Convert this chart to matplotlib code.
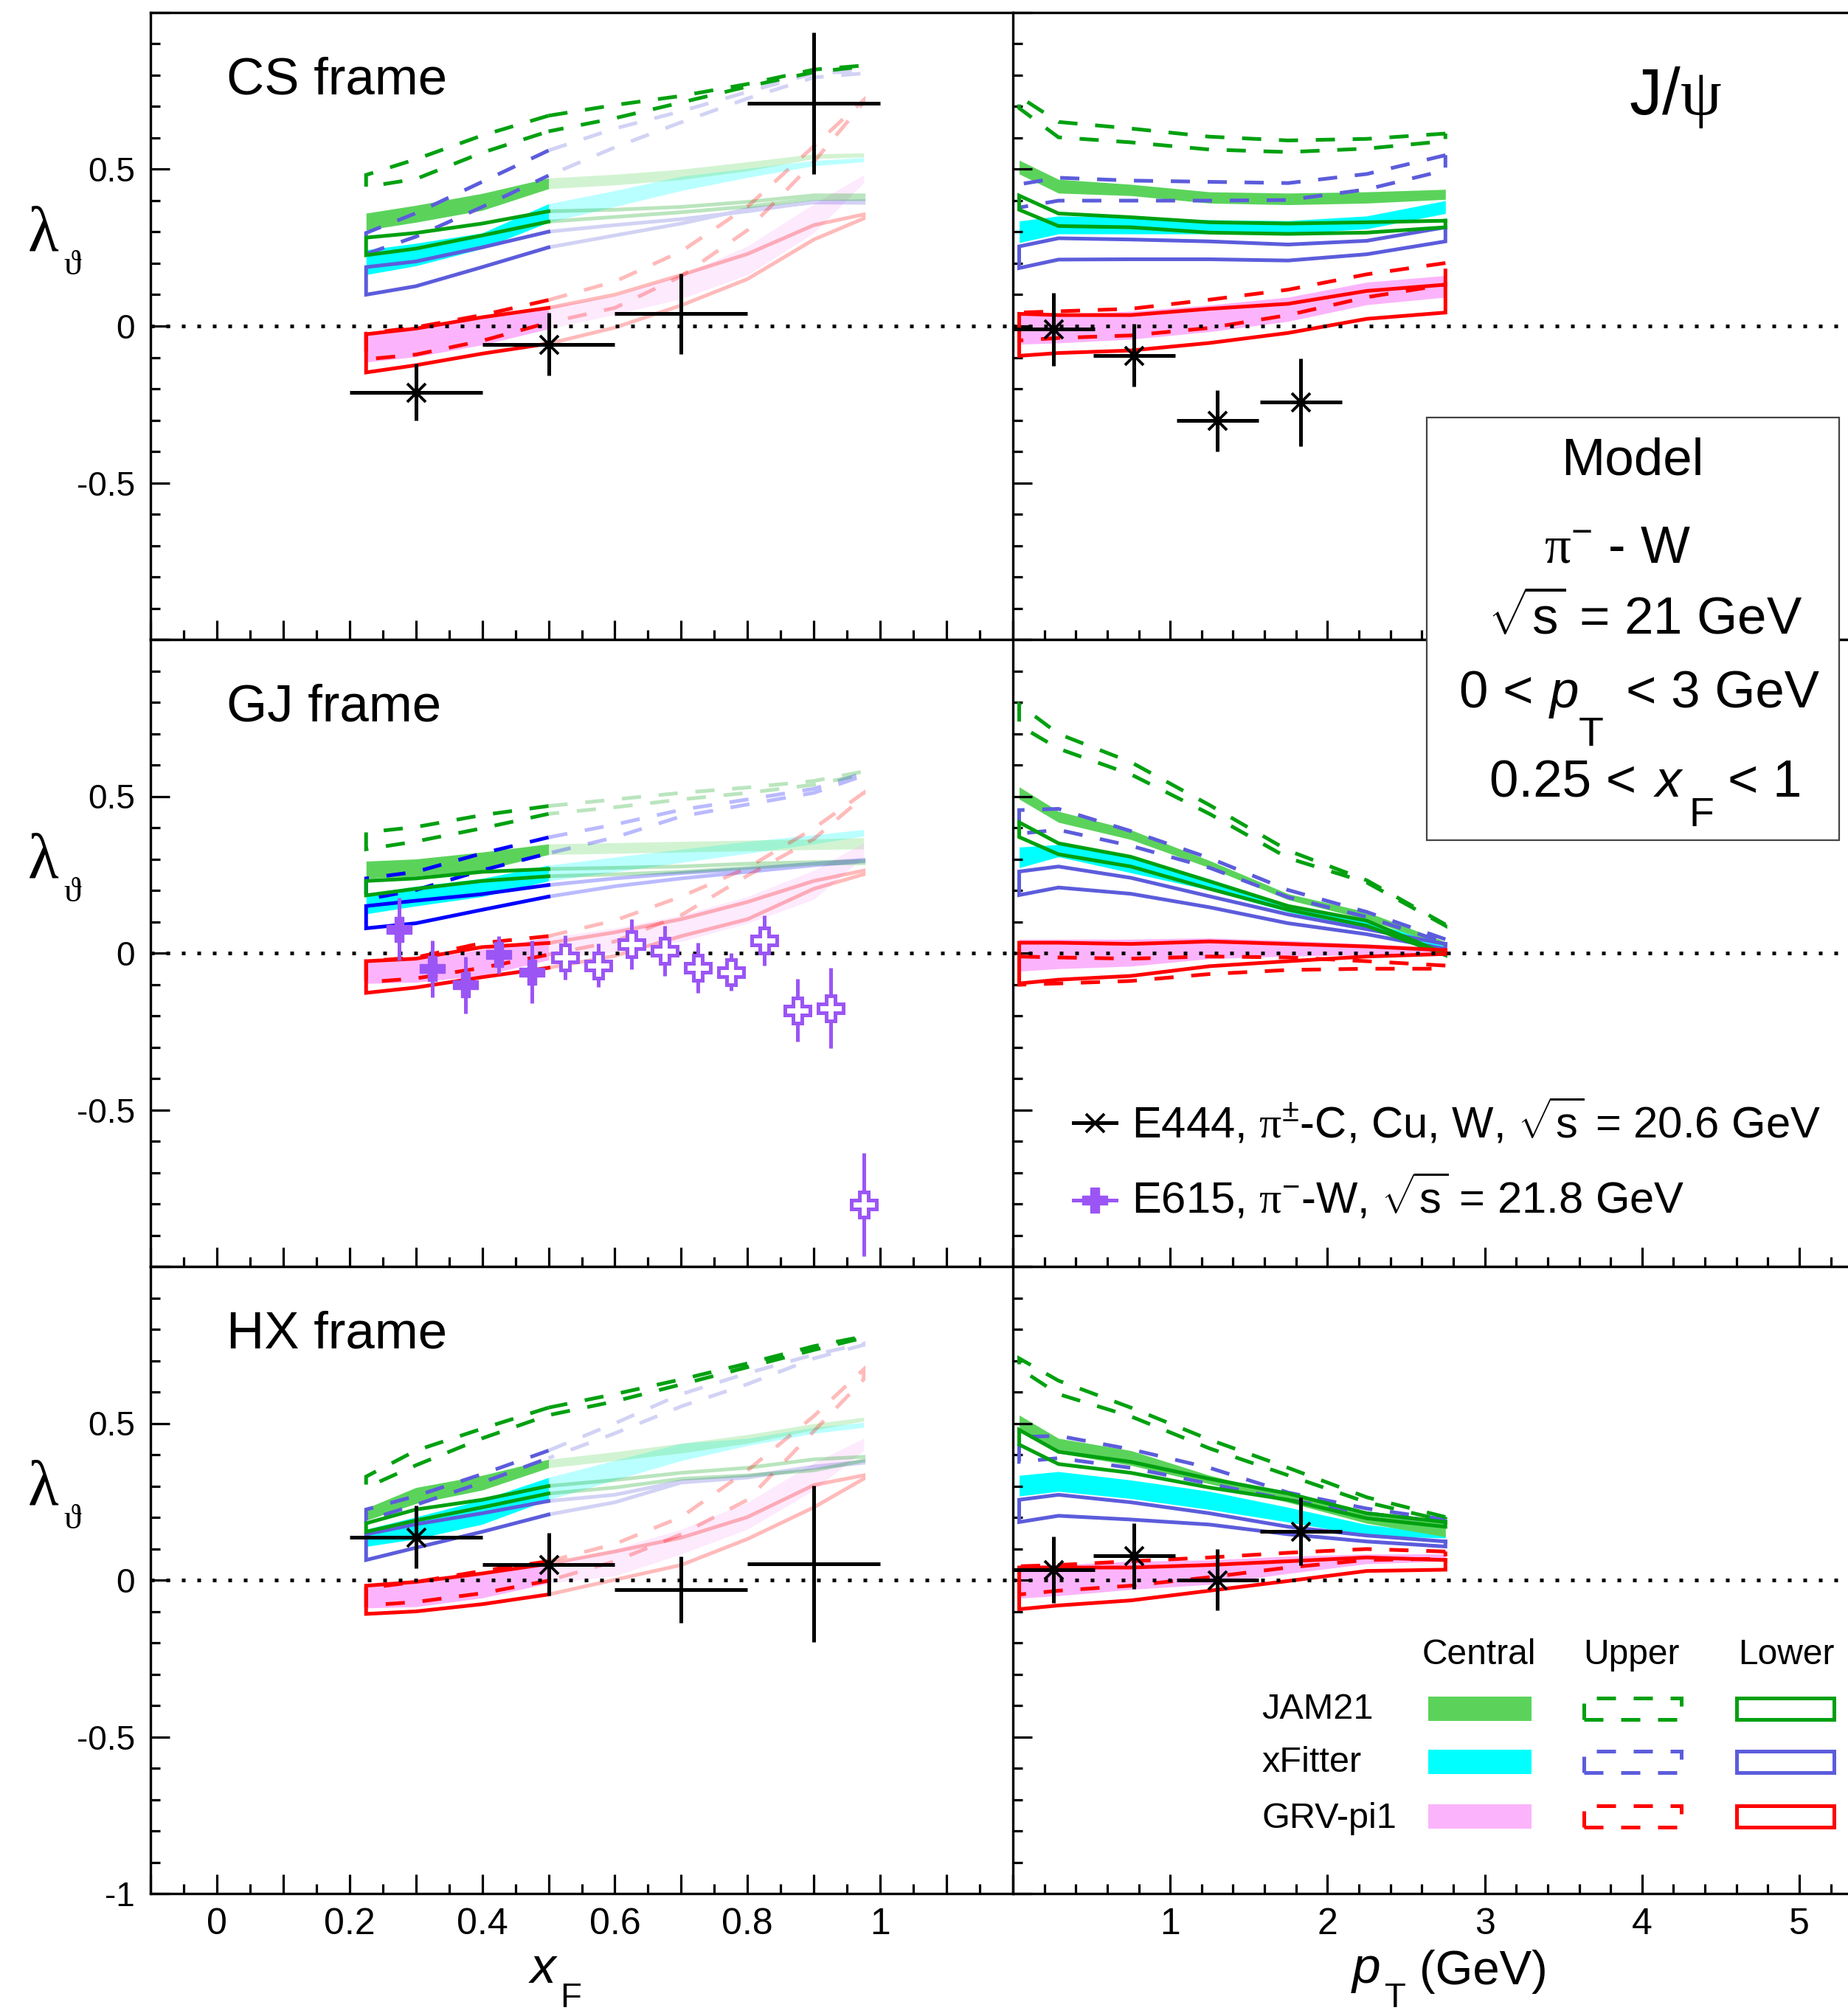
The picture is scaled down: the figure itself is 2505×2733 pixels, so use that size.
import matplotlib
matplotlib.use("Agg")
import matplotlib.pyplot as plt
from matplotlib.patches import Rectangle
from matplotlib.lines import Line2D
from matplotlib.ticker import FixedLocator, MultipleLocator, FuncFormatter

plt.rcParams["font.family"] = ["Liberation Sans", "DejaVu Sans"]
plt.rcParams["mathtext.fontset"] = "custom"
plt.rcParams["mathtext.rm"] = "Liberation Sans"
plt.rcParams["mathtext.it"] = "Liberation Sans:italic"
plt.rcParams["mathtext.sf"] = "Liberation Serif"
plt.rcParams["axes.unicode_minus"] = False

W, H, DPI = 2505, 2733, 100

# ---------------- data (top edge, bottom edge) ----------------
XF_NODES = [0.225, 0.3, 0.4, 0.5, 0.6, 0.7, 0.8, 0.9, 0.975]
PT_NODES = [0.04, 0.29, 0.75, 1.25, 1.75, 2.25, 2.75]

# CS frame vs xF
cs_xf_jam_central = ([0.360, 0.385, 0.423, 0.472, 0.484, 0.500, 0.524, 0.549, 0.552],
                     [0.306, 0.331, 0.369, 0.438, 0.450, 0.467, 0.495, 0.534, 0.539])
cs_xf_jam_upper = ([0.482, 0.532, 0.608, 0.671, 0.705, 0.734, 0.772, 0.818, 0.831],
                   [0.444, 0.469, 0.553, 0.621, 0.663, 0.713, 0.764, 0.810, 0.828])
cs_xf_jam_lower = ([0.282, 0.297, 0.327, 0.366, 0.371, 0.380, 0.396, 0.417, 0.417],
                   [0.226, 0.247, 0.289, 0.333, 0.348, 0.363, 0.381, 0.406, 0.405])
cs_xf_xfit_central = ([0.243, 0.264, 0.297, 0.390, 0.432, 0.478, 0.503, 0.528, 0.537],
                      [0.164, 0.192, 0.247, 0.331, 0.381, 0.432, 0.474, 0.511, 0.524])
cs_xf_xfit_upper = ([0.297, 0.360, 0.460, 0.560, 0.630, 0.685, 0.747, 0.806, 0.814],
                    [0.230, 0.285, 0.380, 0.480, 0.570, 0.650, 0.726, 0.793, 0.806])
cs_xf_xfit_lower = ([0.188, 0.206, 0.251, 0.301, 0.322, 0.341, 0.366, 0.396, 0.398],
                    [0.100, 0.127, 0.188, 0.251, 0.289, 0.327, 0.373, 0.394, 0.393])
cs_xf_grv_central = ([-0.026, -0.005, 0.028, 0.062, 0.096, 0.163, 0.255, 0.390, 0.482],
                     [-0.115, -0.098, -0.060, -0.009, 0.037, 0.087, 0.163, 0.297, 0.457])
cs_xf_grv_upper = ([-0.024, -0.004, 0.035, 0.083, 0.142, 0.238, 0.381, 0.574, 0.721],
                   [-0.106, -0.091, -0.047, 0.011, 0.058, 0.159, 0.306, 0.524, 0.713])
cs_xf_grv_lower = ([-0.026, -0.008, 0.028, 0.058, 0.100, 0.163, 0.230, 0.322, 0.356],
                   [-0.148, -0.125, -0.088, -0.056, -0.005, 0.066, 0.150, 0.276, 0.343])

# CS frame vs pT
cs_pt_jam_central = ([0.529, 0.468, 0.452, 0.428, 0.424, 0.428, 0.436],
                     [0.485, 0.424, 0.416, 0.392, 0.387, 0.392, 0.404])
cs_pt_jam_upper = ([0.732, 0.651, 0.630, 0.604, 0.592, 0.597, 0.614],
                   [0.695, 0.602, 0.586, 0.563, 0.555, 0.566, 0.590])
cs_pt_jam_lower = ([0.416, 0.359, 0.347, 0.331, 0.327, 0.331, 0.336],
                   [0.371, 0.319, 0.315, 0.298, 0.294, 0.298, 0.315])
cs_pt_xfit_central = ([0.335, 0.351, 0.347, 0.339, 0.336, 0.351, 0.400],
                      [0.266, 0.294, 0.294, 0.294, 0.294, 0.310, 0.359])
cs_pt_xfit_upper = ([0.452, 0.473, 0.464, 0.460, 0.456, 0.485, 0.545],
                    [0.378, 0.400, 0.400, 0.400, 0.402, 0.436, 0.497])
cs_pt_xfit_lower = ([0.254, 0.280, 0.276, 0.270, 0.260, 0.272, 0.315],
                    [0.185, 0.212, 0.213, 0.213, 0.209, 0.229, 0.270])
cs_pt_grv_central = ([0.043, 0.039, 0.047, 0.067, 0.092, 0.140, 0.161],
                     [-0.058, -0.054, -0.042, -0.018, 0.015, 0.068, 0.092])
cs_pt_grv_upper = ([0.043, 0.047, 0.055, 0.084, 0.116, 0.165, 0.201],
                   [-0.046, -0.038, -0.030, -0.006, 0.035, 0.092, 0.132])
cs_pt_grv_lower = ([0.039, 0.035, 0.035, 0.055, 0.071, 0.112, 0.132],
                   [-0.095, -0.086, -0.078, -0.054, -0.022, 0.023, 0.043])

# GJ frame vs xF
gj_xf_jam_central = ([0.293, 0.300, 0.322, 0.348, 0.352, 0.356, 0.360, 0.364, 0.368],
                     [0.238, 0.245, 0.264, 0.314, 0.318, 0.322, 0.326, 0.330, 0.332])
gj_xf_jam_upper = ([0.385, 0.402, 0.440, 0.469, 0.490, 0.511, 0.528, 0.549, 0.579],
                   [0.331, 0.356, 0.398, 0.444, 0.465, 0.490, 0.511, 0.537, 0.570])
gj_xf_jam_lower = ([0.230, 0.238, 0.259, 0.268, 0.272, 0.276, 0.285, 0.290, 0.293],
                   [0.184, 0.205, 0.230, 0.245, 0.251, 0.259, 0.272, 0.285, 0.287])
gj_xf_xfit_central = ([0.188, 0.213, 0.238, 0.280, 0.306, 0.331, 0.356, 0.377, 0.394],
                      [0.125, 0.150, 0.180, 0.230, 0.259, 0.289, 0.318, 0.348, 0.373])
gj_xf_xfit_upper = ([0.238, 0.259, 0.318, 0.369, 0.410, 0.457, 0.490, 0.524, 0.574],
                    [0.171, 0.201, 0.264, 0.318, 0.369, 0.436, 0.474, 0.511, 0.566])
gj_xf_xfit_lower = ([0.150, 0.167, 0.188, 0.217, 0.238, 0.255, 0.268, 0.285, 0.297],
                    [0.079, 0.095, 0.138, 0.180, 0.213, 0.238, 0.259, 0.280, 0.293])
gj_xf_grv_central = ([-0.030, -0.022, 0.012, 0.050, 0.079, 0.121, 0.180, 0.264, 0.352],
                     [-0.097, -0.093, -0.072, -0.022, 0.003, 0.037, 0.095, 0.171, 0.306])
gj_xf_grv_upper = ([-0.026, -0.014, 0.032, 0.054, 0.104, 0.180, 0.272, 0.398, 0.511],
                   [-0.093, -0.081, -0.047, -0.005, 0.037, 0.121, 0.247, 0.364, 0.499])
gj_xf_grv_lower = ([-0.026, -0.018, 0.019, 0.032, 0.066, 0.108, 0.163, 0.230, 0.263],
                   [-0.127, -0.110, -0.077, -0.047, -0.009, 0.054, 0.108, 0.205, 0.251])

# GJ frame vs pT
gj_pt_jam_central = ([0.530, 0.452, 0.393, 0.295, 0.189, 0.131, 0.036],
                     [0.491, 0.417, 0.362, 0.272, 0.170, 0.107, 0.021])
gj_pt_jam_upper = ([0.793, 0.699, 0.609, 0.472, 0.327, 0.232, 0.091],
                   [0.726, 0.652, 0.570, 0.444, 0.303, 0.225, 0.087])
gj_pt_jam_lower = ([0.417, 0.350, 0.307, 0.229, 0.150, 0.103, -0.003],
                   [0.370, 0.315, 0.276, 0.205, 0.138, 0.087, -0.007])
gj_pt_xfit_central = ([0.338, 0.346, 0.311, 0.236, 0.154, 0.099, 0.033],
                      [0.272, 0.307, 0.256, 0.201, 0.131, 0.075, 0.013])
gj_pt_xfit_upper = ([0.456, 0.460, 0.389, 0.303, 0.201, 0.131, 0.044],
                    [0.381, 0.393, 0.342, 0.272, 0.178, 0.115, 0.033])
gj_pt_xfit_lower = ([0.260, 0.276, 0.240, 0.181, 0.123, 0.076, 0.029],
                    [0.185, 0.209, 0.189, 0.146, 0.095, 0.060, 0.013])
gj_pt_grv_central = ([0.044, 0.044, 0.044, 0.048, 0.040, 0.029, 0.017],
                     [-0.058, -0.050, -0.042, -0.018, -0.010, -0.006, -0.003])
gj_pt_grv_upper = ([-0.011, -0.014, -0.018, -0.011, -0.014, -0.026, -0.040],
                   [-0.101, -0.097, -0.089, -0.067, -0.054, -0.050, -0.050])
gj_pt_grv_lower = ([0.033, 0.033, 0.029, 0.037, 0.029, 0.021, 0.009],
                   [-0.097, -0.085, -0.073, -0.042, -0.026, -0.011, -0.003])

# HX frame vs xF
hx_xf_jam_central = ([0.229, 0.295, 0.334, 0.385, 0.409, 0.436, 0.464, 0.499, 0.519],
                     [0.190, 0.244, 0.287, 0.358, 0.381, 0.405, 0.436, 0.479, 0.507])
hx_xf_jam_upper = ([0.330, 0.413, 0.483, 0.550, 0.593, 0.640, 0.691, 0.746, 0.777],
                   [0.295, 0.366, 0.452, 0.526, 0.570, 0.624, 0.679, 0.734, 0.773])
hx_xf_jam_lower = ([0.181, 0.225, 0.256, 0.300, 0.319, 0.342, 0.358, 0.385, 0.393],
                   [0.154, 0.190, 0.232, 0.276, 0.295, 0.323, 0.334, 0.350, 0.381])
hx_xf_xfit_central = ([0.162, 0.201, 0.256, 0.327, 0.382, 0.436, 0.452, 0.487, 0.503],
                      [0.107, 0.131, 0.178, 0.256, 0.319, 0.381, 0.429, 0.468, 0.487])
hx_xf_xfit_upper = ([0.225, 0.268, 0.338, 0.413, 0.500, 0.593, 0.660, 0.719, 0.754],
                    [0.190, 0.240, 0.311, 0.389, 0.468, 0.554, 0.625, 0.707, 0.750])
hx_xf_xfit_lower = ([0.146, 0.178, 0.213, 0.252, 0.272, 0.315, 0.330, 0.362, 0.378],
                    [0.064, 0.103, 0.154, 0.209, 0.248, 0.311, 0.327, 0.358, 0.374])
hx_xf_grv_central = ([-0.022, -0.010, 0.017, 0.052, 0.099, 0.162, 0.248, 0.374, 0.452],
                     [-0.089, -0.085, -0.057, -0.010, 0.013, 0.083, 0.162, 0.287, 0.413])
hx_xf_grv_upper = ([-0.026, -0.006, 0.029, 0.060, 0.115, 0.201, 0.350, 0.523, 0.672],
                   [-0.081, -0.070, -0.042, -0.002, 0.060, 0.146, 0.256, 0.475, 0.640])
hx_xf_grv_lower = ([-0.018, -0.006, 0.021, 0.052, 0.091, 0.135, 0.201, 0.303, 0.334],
                   [-0.108, -0.100, -0.077, -0.046, 0.001, 0.048, 0.131, 0.232, 0.323])

# HX frame vs pT
hx_pt_jam_central = ([0.526, 0.452, 0.413, 0.334, 0.272, 0.209, 0.189],
                     [0.475, 0.405, 0.366, 0.307, 0.248, 0.181, 0.138])
hx_pt_jam_upper = ([0.707, 0.636, 0.550, 0.448, 0.358, 0.264, 0.201],
                   [0.675, 0.593, 0.522, 0.420, 0.334, 0.248, 0.189])
hx_pt_jam_lower = ([0.479, 0.409, 0.377, 0.323, 0.276, 0.213, 0.185],
                   [0.432, 0.370, 0.342, 0.295, 0.256, 0.197, 0.170])
hx_pt_xfit_central = ([0.334, 0.346, 0.319, 0.283, 0.232, 0.177, 0.146],
                      [0.268, 0.283, 0.260, 0.225, 0.185, 0.142, 0.134])
hx_pt_xfit_upper = ([0.456, 0.460, 0.417, 0.358, 0.279, 0.228, 0.193],
                    [0.377, 0.389, 0.358, 0.307, 0.256, 0.213, 0.185])
hx_pt_xfit_lower = ([0.256, 0.272, 0.248, 0.213, 0.170, 0.142, 0.123],
                    [0.185, 0.205, 0.193, 0.177, 0.146, 0.123, 0.107])
hx_pt_grv_central = ([0.048, 0.048, 0.060, 0.064, 0.076, 0.083, 0.083],
                     [-0.058, -0.050, -0.030, -0.014, 0.021, 0.052, 0.060])
hx_pt_grv_upper = ([0.044, 0.048, 0.060, 0.072, 0.087, 0.099, 0.091],
                   [-0.046, -0.034, -0.018, 0.009, 0.040, 0.064, 0.068])
hx_pt_grv_lower = ([0.040, 0.040, 0.040, 0.048, 0.060, 0.072, 0.064],
                   [-0.093, -0.081, -0.065, -0.034, -0.003, 0.029, 0.033])

# E444 measurements
e444_xf = [0.3, 0.5, 0.7, 0.9]
e444_xf_err = [0.1, 0.1, 0.1, 0.1]
e444_cs_xf_y = [-0.211, -0.058, 0.039, 0.711]
e444_cs_xf_yerr = [0.090, 0.100, 0.128, 0.226]
e444_hx_xf_y = [0.137, 0.050, -0.030, 0.052]
e444_hx_xf_yerr = [0.100, 0.100, 0.106, 0.250]
e444_pt = [0.26, 0.77, 1.30, 1.83]
e444_pt_err = [0.26, 0.26, 0.26, 0.26]
e444_cs_pt_y = [-0.010, -0.093, -0.302, -0.243]
e444_cs_pt_yerr = [0.117, 0.099, 0.098, 0.140]
e444_hx_pt_y = [0.033, 0.077, 0.001, 0.156]
e444_hx_pt_yerr = [0.105, 0.105, 0.098, 0.108]

# E615 measurements (GJ frame vs xF)
e615_xf = [0.275, 0.325, 0.375, 0.425, 0.475, 0.525, 0.575, 0.625,
           0.675, 0.725, 0.775, 0.825, 0.875, 0.925, 0.975]
e615_y = [0.076, -0.050, -0.102, -0.005, -0.060, -0.014, -0.039, 0.028,
          0.007, -0.046, -0.060, 0.041, -0.183, -0.176, -0.803]
e615_yerr = [0.100, 0.090, 0.090, 0.060, 0.100, 0.070, 0.070, 0.080,
             0.080, 0.080, 0.060, 0.080, 0.100, 0.128, 0.165]

# ---------------- styles ----------------
JAM_FILL, JAM_LINE = "#5bd35b", "#00a010"
XF_FILL, XF_LINE = "#00ffff", "#5c5cdc"
GRV_FILL, GRV_LINE = "#fbb4fb", "#ff0000"
E615_C = "#9b55f5"
FADE = 0.27
LW = 3.6
DASH = (5.2, 4.8)
MODEL_STYLE = {"jam": (JAM_FILL, JAM_LINE), "xfit": (XF_FILL, XF_LINE), "grv": (GRV_FILL, GRV_LINE)}

LEFT_SETS = [
    {"jam": (cs_xf_jam_central, cs_xf_jam_upper, cs_xf_jam_lower),
     "xfit": (cs_xf_xfit_central, cs_xf_xfit_upper, cs_xf_xfit_lower),
     "grv": (cs_xf_grv_central, cs_xf_grv_upper, cs_xf_grv_lower)},
    {"jam": (gj_xf_jam_central, gj_xf_jam_upper, gj_xf_jam_lower),
     "xfit": (gj_xf_xfit_central, gj_xf_xfit_upper, gj_xf_xfit_lower),
     "grv": (gj_xf_grv_central, gj_xf_grv_upper, gj_xf_grv_lower)},
    {"jam": (hx_xf_jam_central, hx_xf_jam_upper, hx_xf_jam_lower),
     "xfit": (hx_xf_xfit_central, hx_xf_xfit_upper, hx_xf_xfit_lower),
     "grv": (hx_xf_grv_central, hx_xf_grv_upper, hx_xf_grv_lower)},
]
RIGHT_SETS = [
    {"jam": (cs_pt_jam_central, cs_pt_jam_upper, cs_pt_jam_lower),
     "xfit": (cs_pt_xfit_central, cs_pt_xfit_upper, cs_pt_xfit_lower),
     "grv": (cs_pt_grv_central, cs_pt_grv_upper, cs_pt_grv_lower)},
    {"jam": (gj_pt_jam_central, gj_pt_jam_upper, gj_pt_jam_lower),
     "xfit": (gj_pt_xfit_central, gj_pt_xfit_upper, gj_pt_xfit_lower),
     "grv": (gj_pt_grv_central, gj_pt_grv_upper, gj_pt_grv_lower)},
    {"jam": (hx_pt_jam_central, hx_pt_jam_upper, hx_pt_jam_lower),
     "xfit": (hx_pt_xfit_central, hx_pt_xfit_upper, hx_pt_xfit_lower),
     "grv": (hx_pt_grv_central, hx_pt_grv_upper, hx_pt_grv_lower)},
]


def outline(ax, x, top, bot, color, dashed, alpha, close_left, close_right, z):
    if close_left:
        xs = list(x[::-1]) + list(x)
        ys = list(top[::-1]) + list(bot)
        if close_right:
            xs.append(x[-1])
            ys.append(top[-1])
    else:
        xs = list(x) + list(x[::-1])
        ys = list(top) + list(bot[::-1])
    kw = dict(color=color, lw=LW, alpha=alpha, zorder=z,
              solid_joinstyle="miter", dash_joinstyle="miter", dash_capstyle="butt")
    if dashed:
        kw["dashes"] = DASH
    ax.plot(xs, ys, **kw)


def draw_models(ax, x, sets, split=None, line_over=None, full_upper=()):
    line_over = line_over or {}
    for key in ("xfit", "jam", "grv"):
        fill_c = MODEL_STYLE[key][0]
        top, bot = sets[key][0]
        if split is None:
            ax.fill_between(x, bot, top, color=fill_c, lw=0, zorder=1.2)
        else:
            k = split
            ax.fill_between(x[:k + 1], bot[:k + 1], top[:k + 1], color=fill_c, lw=0, zorder=1.2)
            ax.fill_between(x[k:], bot[k:], top[k:], color=fill_c, alpha=FADE, lw=0, zorder=1.0)
    for key in ("xfit", "jam", "grv"):
        line_c = line_over.get(key, MODEL_STYLE[key][1])
        for idx, dashed in ((2, False), (1, True)):
            top, bot = sets[key][idx]
            if split is None:
                outline(ax, x, top, bot, line_c, dashed, 1.0, True, True, 2.2)
            else:
                k = split
                outline(ax, x[:k + 1], top[:k + 1], bot[:k + 1], line_c, dashed, 1.0, True, False, 2.2)
                a = 1.0 if (dashed and key in full_upper) else FADE
                outline(ax, x[k:], top[k:], bot[k:], line_c, dashed, a, False, True, 2.0)


def e444(ax, x, xerr, y, yerr, marked):
    ax.errorbar(x, y, xerr=xerr, yerr=yerr, fmt="none", ecolor="k", elinewidth=LW,
                capsize=0, zorder=4)
    ax.plot([x[i] for i in marked], [y[i] for i in marked], ls="none", marker="x",
            ms=18, mew=2.8, color="k", zorder=5)


def fx(X):
    return X / W


def fy(Y):
    return 1 - Y / H


def ftext(X, Y, s, size, **kw):
    kw.setdefault("ha", "left")
    kw.setdefault("va", "baseline")
    return fig.text(fx(X), fy(Y), s, fontsize=size, **kw)


fig = plt.figure(figsize=(W / DPI, H / DPI), dpi=DPI)

ROW_TOP = [17, 867, 1717]
ROW_H = 850
LEFT_X0, MID_X, RIGHT_X1 = 204, 1373, 2505
frame_names = ["CS frame", "GJ frame", "HX frame"]


def xf_fmt(v, pos):
    if -1e-6 <= v <= 1.0 + 1e-6 and abs(v / 0.2 - round(v / 0.2)) < 1e-6:
        return "%g" % round(v, 2)
    return ""


def pt_fmt(v, pos):
    if 0.5 < v < 5.5:
        return "%d" % round(v)
    return ""


for r in range(3):
    top = ROW_TOP[r]
    axl = fig.add_axes([fx(LEFT_X0), fy(top + ROW_H), (MID_X - LEFT_X0) / W, ROW_H / H])
    axr = fig.add_axes([fx(MID_X), fy(top + ROW_H), (RIGHT_X1 - MID_X) / W, ROW_H / H])
    bottom = r == 2
    for ax, left in ((axl, True), (axr, False)):
        ax.set_ylim(-1, 1)
        ax.yaxis.set_major_locator(FixedLocator([-1, -0.5, 0, 0.5, 1]))
        ax.yaxis.set_minor_locator(MultipleLocator(0.1))
        ylabels = {0.5: "0.5", 0.0: "0", -0.5: "-0.5"}
        if bottom:
            ylabels[-1.0] = "-1"
        if left:
            ax.yaxis.set_major_formatter(FuncFormatter(lambda v, p, d=ylabels: d.get(round(v, 2), "")))
        else:
            ax.yaxis.set_major_formatter(FuncFormatter(lambda v, p: ""))
        ax.tick_params(which="both", direction="in", top=False, right=False, width=2.3)
        ax.tick_params(which="major", length=19)
        ax.tick_params(which="minor", length=9.5)
        ax.tick_params(axis="y", labelsize=33, pad=15)
        ax.tick_params(axis="x", labelsize=36, pad=14)
        for s in ax.spines.values():
            s.set_linewidth(2.4)
        ax.spines["right"].set_visible(False)
        ax.axhline(0, color="k", lw=3.6, dashes=(1, 3.2), dash_capstyle="butt", zorder=3)
    axl.set_xlim(-0.1, 1.2)
    axl.xaxis.set_major_locator(MultipleLocator(0.1))
    axl.xaxis.set_minor_locator(MultipleLocator(0.05))
    axr.set_xlim(0, (RIGHT_X1 - MID_X) / 213.2)
    axr.xaxis.set_major_locator(MultipleLocator(1))
    axr.xaxis.set_minor_locator(MultipleLocator(0.2))
    if bottom:
        axl.xaxis.set_major_formatter(FuncFormatter(xf_fmt))
        axr.xaxis.set_major_formatter(FuncFormatter(pt_fmt))
    else:
        axl.xaxis.set_major_formatter(FuncFormatter(lambda v, p: ""))
        axr.xaxis.set_major_formatter(FuncFormatter(lambda v, p: ""))

    if r == 1:
        draw_models(axl, XF_NODES, LEFT_SETS[r], split=3, line_over={"xfit": "#0000ff"})
    else:
        draw_models(axl, XF_NODES, LEFT_SETS[r], split=3, full_upper=("jam",))
    draw_models(axr, PT_NODES, RIGHT_SETS[r])

    if r == 0:
        e444(axl, e444_xf, e444_xf_err, e444_cs_xf_y, e444_cs_xf_yerr, [0, 1])
        e444(axr, e444_pt, e444_pt_err, e444_cs_pt_y, e444_cs_pt_yerr, [0, 1, 2, 3])
    elif r == 2:
        e444(axl, e444_xf, e444_xf_err, e444_hx_xf_y, e444_hx_xf_yerr, [0, 1])
        e444(axr, e444_pt, e444_pt_err, e444_hx_pt_y, e444_hx_pt_yerr, [0, 1, 2, 3])
    else:
        axl.errorbar(e615_xf, e615_y, yerr=e615_yerr, fmt="none", ecolor=E615_C,
                     elinewidth=LW, capsize=0, zorder=4)
        axl.plot(e615_xf[:5], e615_y[:5], ls="none", marker="P", ms=25, color=E615_C,
                 mec=E615_C, zorder=5)
        axl.plot(e615_xf[5:], e615_y[5:], ls="none", marker="P", ms=25, mfc="white",
                 mec=E615_C, mew=3.6, zorder=5)

    # frame label and y-axis title
    ftext(307, top + 111, frame_names[r], 51)
    ftext(38, top + 323, "\u03bb", 62, family=["Liberation Serif", "DejaVu Serif"])
    ftext(86, top + 355, "\u03d1", 34, family=["Liberation Serif", "DejaVu Serif"])

# axis titles
ftext(719, 2688, "x", 50, style="italic")
ftext(759, 2721, "F", 34)
ftext(1833, 2688, "p", 50, style="italic")
ftext(1877, 2721, "T", 34)
ftext(1924, 2690, "(GeV)", 47)

# J/psi
ftext(2208, 155, r"J/$\mathsf{\psi}$", 64)

# model box
fig.add_artist(Rectangle((fx(1934), fy(1139)), (2493 - 1934) / W, (1139 - 566) / H,
                         transform=fig.transFigure, fc="white", ec="#444444", lw=1.6, zorder=5))
ftext(2213, 644, "Model", 51, ha="center", zorder=6)
ftext(2192, 763, r"$\mathsf{\pi}^{-}$ - W", 51, ha="center", zorder=6)
ftext(2230, 860, r"$\sqrt{\mathrm{s}}$ = 21 GeV", 51, ha="center", zorder=6)
ftext(1978, 959, "0 <", 51, zorder=6)
ftext(2101, 959, "p", 51, style="italic", zorder=6)
ftext(2140, 1011, "T", 40, zorder=6)
ftext(2204, 959, "< 3 GeV", 51, zorder=6)
ftext(2019, 1080, "0.25 <", 51, zorder=6)
ftext(2244, 1080, "x", 51, style="italic", zorder=6)
ftext(2289, 1120, "F", 40, zorder=6)
ftext(2342, 1080, "< 1", 51, zorder=6)

# data legend
fig.add_artist(Line2D([fx(1455), fx(1513)], [fy(1522)] * 2, transform=fig.transFigure,
                      color="k", lw=LW))
fig.add_artist(Line2D([fx(1484)], [fy(1522)], transform=fig.transFigure, color="k",
                      marker="x", ms=18, mew=2.8, ls="none"))
ftext(1534, 1543, r"E444, $\mathsf{\pi}^{\pm}$-C, Cu, W, $\sqrt{\mathrm{s}}$ = 20.6 GeV", 43)
fig.add_artist(Line2D([fx(1455), fx(1513)], [fy(1627)] * 2, transform=fig.transFigure,
                      color=E615_C, lw=LW))
fig.add_artist(Line2D([fx(1484)], [fy(1627)], transform=fig.transFigure, color=E615_C,
                      marker="P", ms=24, ls="none"))
ftext(1534, 1645, r"E615, $\mathsf{\pi}^{-}$-W, $\sqrt{\mathrm{s}}$ = 21.8 GeV", 43)

# model legend
ftext(1928, 2256, "Central", 34.5)
ftext(2146, 2256, "Upper", 34.5)
ftext(2356, 2256, "Lower", 34.5)
legend_rows = [("JAM21", JAM_FILL, JAM_LINE, 2300, 2330),
               ("xFitter", XF_FILL, XF_LINE, 2372, 2402),
               ("GRV-pi1", GRV_FILL, GRV_LINE, 2446, 2478)]
for name, fc, lc, ytop, base in legend_rows:
    ftext(1710, base, name, 35)
    fig.add_artist(Rectangle((fx(1936), fy(ytop + 33)), 140 / W, 33 / H,
                             transform=fig.transFigure, fc=fc, ec="none"))
    fig.add_artist(Rectangle((fx(2147), fy(ytop + 31)), 132 / W, 29 / H,
                             transform=fig.transFigure, fill=False, ec=lc, lw=LW,
                             ls=(0, DASH)))
    fig.add_artist(Rectangle((fx(2354), fy(ytop + 31)), 132 / W, 29 / H,
                             transform=fig.transFigure, fill=False, ec=lc, lw=LW))

fig.savefig("out.png", dpi=DPI)
